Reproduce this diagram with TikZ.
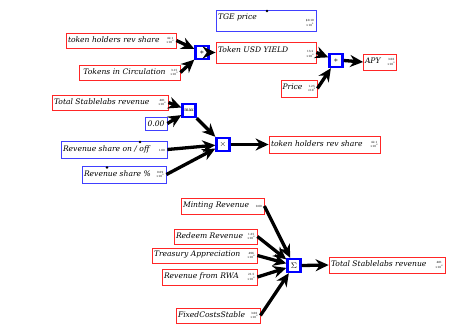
\documentclass[tikz,border=0pt]{standalone}
\usepackage{fontspec}
\setmainfont{DejaVu Serif}
\usetikzlibrary{arrows.meta}
\newcommand{\vals}[2]{{\fontsize{2.8}{3.4}\selectfont\upshape\begin{tabular}{@{}c@{}}#1\\#2\end{tabular}}}
\newcommand{\tens}[1]{×10\textsuperscript{#1}}
\tikzset{
  box/.style={line width=0.8pt, fill=white, inner sep=1pt, font=\itshape\fontsize{7.6}{9}\selectfont, anchor=center},
  rbox/.style={box, draw=red!85},
  bbox/.style={box, draw=blue!75},
  opbox/.style={draw=blue, line width=2.4pt, minimum size=13pt, inner sep=0pt, fill=white, font=\fontsize{8}{9}\selectfont},
  arr/.style={-{Stealth[length=13pt,width=12pt]}, line width=3.3pt},
  pin/.style={circle, fill=black, inner sep=0pt, minimum size=2.8pt}
}
\newcommand{\lbl}[3]{\makebox[#1][l]{#2\hfill#3}}
\begin{document}
\begin{tikzpicture}[x=1pt,y=-1pt]
\useasboundingbox (0,0) rectangle (476,332);
% top part
\node[bbox, minimum width=100pt, minimum height=21pt] (tge) at (266,20.5) {\lbl{96pt}{\raisebox{3pt}{TGE price}}{\raisebox{-2pt}{\vals{\$0.10}{\tens{0}}}}};
\node[pin] (tgepin) at (267,11) {};
\node[rbox, minimum width=110pt, minimum height=15pt] (thr) at (121,40.5) {\lbl{106pt}{token holders rev share}{\vals{42.1}{\tens{6}}}};
\node[rbox, minimum width=101pt, minimum height=15pt] (circ) at (129.5,72.5) {\lbl{97pt}{\hfill Tokens in Circulation\ }{\vals{3.15}{\tens{9}}}};
\node[opbox] (op1) at (202,52.5) {$\ast$};
\node[rbox, minimum width=100pt, minimum height=21pt] (yield) at (266,52.5) {\lbl{96pt}{\raisebox{3pt}{Token USD YIELD}}{\vals{13.2}{\tens{6}}}};
\node[rbox, minimum width=36pt, minimum height=17pt] (price) at (299,88.5) {\lbl{33pt}{Price}{\vals{1.25}{\tens{0}}}};
\node[opbox] (op2) at (336,60.5) {$\ast$};
\node[rbox, minimum width=33pt, minimum height=16pt] (apy) at (380,62) {\lbl{30pt}{APY}{\vals{3.06}{\tens{0}}}};
% middle part
\node[rbox, minimum width=116pt, minimum height=15pt] (tsr) at (110,102.5) {\lbl{112pt}{Total Stablelabs revenue}{\vals{481}{\tens{6}}}};
\node[bbox, minimum width=22pt, minimum height=13pt] (zero) at (156,123.5) {0.00};
\node[opbox, font=\fontsize{4.5}{5}\selectfont] (max) at (189,110.5) {max};
\node[bbox, minimum width=106pt, minimum height=17pt] (rso) at (114,149.5) {\lbl{102pt}{Revenue share on / off}{\vals{1.00}{}}};
\node[pin] (rsopin) at (140,142) {};
\node[bbox, minimum width=84pt, minimum height=17pt] (rsp) at (124,174.5) {\lbl{80pt}{Revenue share \%}{\vals{0.09}{\tens{0}}}};
\node[pin] (rsppin) at (107,167.5) {};
\node[opbox] (mul) at (223,144.5) {$\times$};
\node[rbox, minimum width=111pt, minimum height=17pt] (tho) at (324.5,144.5) {\lbl{107pt}{token holders rev share}{\vals{42.1}{\tens{6}}}};
% bottom part
\node[rbox, minimum width=83pt, minimum height=16pt] (mint) at (222.5,206) {\lbl{79pt}{Minting Revenue}{\vals{0.00}{}}};
\node[rbox, minimum width=83pt, minimum height=15pt] (redeem) at (215.5,236.5) {\lbl{79pt}{Redeem Revenue}{\vals{1.35}{\tens{6}}}};
\node[rbox, minimum width=105pt, minimum height=15pt] (treas) at (204.5,255.5) {\lbl{101pt}{Treasury Appreciation}{\vals{496}{\tens{6}}}};
\node[rbox, minimum width=95pt, minimum height=16pt] (rwa) at (209.5,277) {\lbl{91pt}{Revenue from RWA}{\vals{21.5}{\tens{6}}}};
\node[rbox, minimum width=84pt, minimum height=15pt] (fixed) at (218,315.5) {\lbl{80pt}{FixedCostsStable}{\vals{3.00}{\tens{6}}}};
\node[opbox] (sum) at (294,265.5) {$\Sigma$};
\node[rbox, minimum width=116pt, minimum height=16pt] (tsr2) at (387,265) {\lbl{112pt}{Total Stablelabs revenue}{\vals{481}{\tens{6}}}};
% connectors
\draw[arr] (thr.east) -- (op1);
\draw[arr] (circ.east) -- (op1);
\draw[arr] (op1.east) -- (yield.west);
\draw[arr] (yield.east) -- (op2);
\draw[arr] (price.east) -- (op2);
\draw[arr] (op2.east) -- (apy.west);
\draw[arr] (tsr.east) -- (max);
\draw[arr] (zero.east) -- (max);
\draw[arr] (max) -- (mul);
\draw[arr] (rso.east) -- (mul);
\draw[arr] (rsp.east) -- (mul);
\draw[arr] (mul.east) -- (tho.west);
\draw[arr] (mint.east) -- (sum);
\draw[arr] (redeem.east) -- (sum);
\draw[arr] (treas.east) -- (sum);
\draw[arr] (rwa.east) -- (sum);
\draw[arr] (fixed.east) -- (sum);
\draw[arr] (sum.east) -- (tsr2.west);
\end{tikzpicture}
\end{document}
